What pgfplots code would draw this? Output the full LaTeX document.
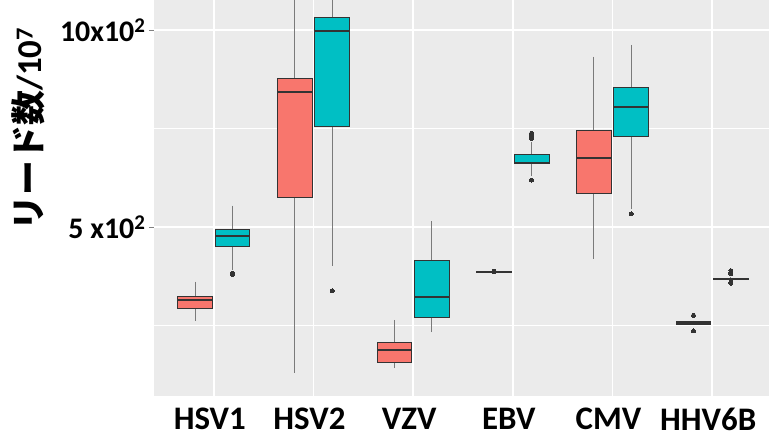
\documentclass[border=0pt]{standalone}
\usepackage{pgfplots}
\pgfplotsset{compat=1.18}
\usepgfplotslibrary{statistics}
\usepackage{fontspec}
\setmainfont{Carlito}
\newfontfamily\jp{Noto Sans CJK JP}
\definecolor{ggred}{HTML}{F8766D}
\definecolor{ggteal}{HTML}{00BFC4}
\definecolor{panel}{HTML}{EBEBEB}
\definecolor{edge}{HTML}{333333}
\definecolor{whisk}{HTML}{7A7A7A}
\pgfplotsset{
  bx/.style={
    boxplot/draw direction=y,
    boxplot/box extend=0.35,
    boxplot/whisker extend=0,
    boxplot/every whisker/.style={draw=whisk, line width=1bp},
    boxplot/every median/.style={draw=edge, line width=2bp},
    draw=edge, line width=0.9bp,
    mark=*, mark size=2bp, mark options={fill=edge, draw=edge, line width=0bp},
  },
  red/.style={bx, fill=ggred},
  teal/.style={bx, fill=ggteal},
}
\begin{document}
\begin{tikzpicture}
\begin{axis}[
  scale only axis, width=615bp, height=396bp,
  xmin=-0.6, xmax=5.57, ymin=71, ymax=1076,
  axis background/.style={fill=panel},
  axis line style={draw=none},
  xtick={0,1,2,3,4,5},
  xticklabels={HSV1,HSV2,VZV,EBV,CMV,{HHV6B\hspace{10bp}}},
  ytick={500,1000},
  yticklabels={5 x10\textsuperscript{2},10x10\textsuperscript{2}},
  minor ytick={250,750},
  xmajorgrids, ymajorgrids, yminorgrids,
  major grid style={white, line width=1.4bp},
  minor grid style={white, line width=0.7bp},
  xtick pos=bottom, ytick pos=left,
  tick align=outside,
  xtick style={draw=none},
  ytick style={draw=gray, line width=0.5bp},
  major tick length=5bp, minor tick length=0bp,
  xticklabel style={font=\bfseries\fontsize{33}{36}\selectfont, inner sep=0pt, yshift=-7bp, xshift=-4bp},
  yticklabel style={font=\bfseries\fontsize{30}{32}\selectfont},
  ylabel={{\jp\bfseries リード数}/10\textsuperscript{7}},
  ylabel style={at={(axis description cs:-0.2040,0.674)}, anchor=center, inner sep=0pt,
    font=\bfseries\fontsize{35}{38}\selectfont},
  clip=true,
]
\coordinate (sw) at (rel axis cs:0,0);
\coordinate (ne) at (rel axis cs:1,1);
% HSV1
\addplot[red, boxplot prepared={draw position=-0.1875, lower whisker=262, lower quartile=294, median=315, upper quartile=323, upper whisker=361}] coordinates {};
\addplot[teal, boxplot prepared={draw position=0.1875, lower whisker=391, lower quartile=450, median=478, upper quartile=493, upper whisker=554}] coordinates {(0,383) (0,380)};
% HSV2
\addplot[red, boxplot prepared={draw position=0.8125, lower whisker=130, lower quartile=574, median=843, upper quartile=876, upper whisker=1120}] coordinates {};
\addplot[teal, boxplot prepared={draw position=1.1875, lower whisker=401, lower quartile=756, median=997, upper quartile=1032, upper whisker=1150}] coordinates {(0,338)};
% VZV
\addplot[red, boxplot prepared={draw position=1.8125, lower whisker=142, lower quartile=157, median=188, upper quartile=208, upper whisker=264}] coordinates {};
\addplot[teal, boxplot prepared={draw position=2.1875, lower whisker=233, lower quartile=271, median=323, upper quartile=416, upper whisker=514}] coordinates {};
% EBV
\addplot[red, boxplot prepared={draw position=2.8125, lower whisker=385, lower quartile=385.5, median=386, upper quartile=386.5, upper whisker=387}] coordinates {(0,386) (0,388)};
\addplot[teal, boxplot prepared={draw position=3.1875, lower whisker=630, lower quartile=660, median=662, upper quartile=685, upper whisker=715}] coordinates {(0,738) (0,731) (0,725) (0,619)};
% CMV
\addplot[red, boxplot prepared={draw position=3.8125, lower whisker=419, lower quartile=584, median=674, upper quartile=744, upper whisker=932}] coordinates {};
\addplot[teal, boxplot prepared={draw position=4.1875, lower whisker=545, lower quartile=729, median=804, upper quartile=855, upper whisker=962}] coordinates {(0,533)};
% HHV6B
\addplot[red, boxplot prepared={draw position=4.8125, lower whisker=252, lower quartile=253, median=256, upper quartile=259, upper whisker=262}] coordinates {(0,276) (0,236)};
\addplot[teal, boxplot prepared={draw position=5.1875, lower whisker=366, lower quartile=367, median=368, upper quartile=370, upper whisker=372}] coordinates {(0,389) (0,385) (0,381) (0,360) (0,357)};
\end{axis}
\pgfresetboundingbox
\path[use as bounding box] ([xshift=-154bp,yshift=-42bp]sw) rectangle (ne);
\end{tikzpicture}
\end{document}
